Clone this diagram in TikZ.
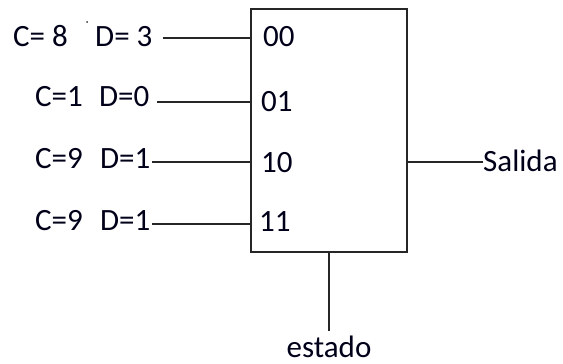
\documentclass[tikz,border=0pt]{standalone}
\usepackage{fontspec}
\setmainfont{Carlito}
\begin{document}
\begin{tikzpicture}[x=1pt,y=-1pt,
  txt/.style={inner sep=0pt,font=\fontsize{31}{36}\selectfont,text=black!90!blue},
  wire/.style={line width=1.5pt,draw=black!85},
  blk/.style={draw=black!85,line width=1.5pt,minimum width=156pt,minimum height=243pt,inner sep=0pt}]
\useasboundingbox (0,0) rectangle (563,364);
% block
\node[blk] (box) at (329,130.5) {};
% port labels
\node[txt,anchor=base west] (p1) at (263,46.7) {00};
\node[txt,anchor=base west] (p2) at (261,111.7) {01};
\node[txt,anchor=base west] (p3) at (261,172) {10};
\node[txt,anchor=base west] (p4) at (259,231.7) {11};
% input labels
\node[txt,anchor=base west] (l1) at (13,46.7) {\makebox[82pt][l]{C= 8}D= 3};
\node[txt,anchor=base west] (l2) at (35,106.7) {\makebox[64pt][l]{C=1}D=0};
\node[txt,anchor=base west] (l3) at (35,168) {\makebox[65pt][l]{C=9}D=1};
\node[txt,anchor=base west] (l4) at (35,230) {\makebox[65pt][l]{C=9}D=1};
\fill[black!80] (87,22) circle (1pt);
% input wires
\coordinate (w1) at (163,38);
\coordinate (w2) at (157,102);
\coordinate (w3) at (152,162);
\coordinate (w4) at (152,224);
\draw[wire] (w1) -- (w1 -| box.west);
\draw[wire] (w2) -- (w2 -| box.west);
\draw[wire] (w3) -- (w3 -| box.west);
\draw[wire] (w4) -- (w4 -| box.west);
% output
\node[txt,anchor=base west] (out) at (483,171.7) {Salida};
\draw[wire] (box.east |- 0,162) -- (out.west |- 0,162);
% estado
\node[txt,anchor=base,text depth=0pt] (st) at (329,357) {estado};
\draw[wire] (box.south) -- (329,331);
\end{tikzpicture}
\end{document}
